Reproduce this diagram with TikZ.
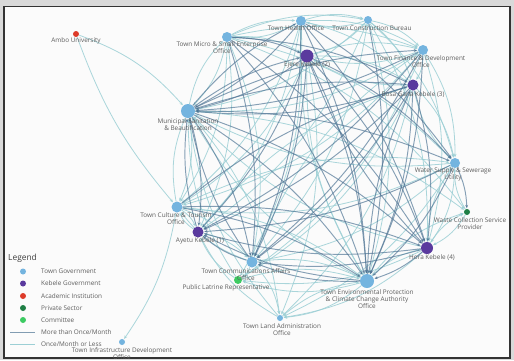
\documentclass[tikz,border=0pt]{standalone}
\usepackage{fontspec}
\setmainfont{Open Sans}
\usetikzlibrary{arrows.meta}
\pgfdeclarelayer{back}
\pgfdeclarelayer{bg}
\pgfsetlayers{back,bg,main}
\definecolor{tgov}{HTML}{74B4DF}
\definecolor{kgov}{HTML}{5A3A9E}
\definecolor{acad}{HTML}{DD3B2A}
\definecolor{priv}{HTML}{1F7F45}
\definecolor{comm}{HTML}{3CCB62}
\definecolor{freqc}{HTML}{4E7494}
\definecolor{rarec}{HTML}{9CCFD5}
\definecolor{labc}{HTML}{5E5E5E}
\tikzset{
  dot/.style={circle,inner sep=0pt,minimum size=#1},
  tg/.style={dot=#1,fill=tgov},
  kg/.style={dot=#1,fill=kgov},
  lab/.style={font=\fontsize{6.4}{7}\selectfont,text=labc,align=center,inner sep=0pt},
  freq/.style={draw=freqc,draw opacity=0.68,line width=0.95pt,-{Stealth[length=3.5pt,width=3pt]},shorten >=0.5pt},
  rare/.style={draw=rarec,draw opacity=0.85,line width=0.8pt,-{Stealth[length=3.5pt,width=3pt]},shorten >=0.5pt},
  legtxt/.style={font=\fontsize{6.4}{7}\selectfont,text=labc,anchor=west,inner sep=0pt},
}
\begin{document}
\begin{tikzpicture}[x=1pt,y=-1pt]
\begin{pgfonlayer}{back}
\fill[black!15] (0,0) rectangle (514,360);
\draw[fill=black!1.5,draw=black!80,line width=1.2pt] (4,6.5) rectangle (510,358);
\end{pgfonlayer}
\useasboundingbox (0,0) rectangle (514,360);
% nodes
\node[dot=6,fill=acad] (au) at (76,34) {};
\node[tg=10] (mse) at (227,37) {};
\node[tg=10] (tho) at (301,21) {};
\node[tg=8] (tcb) at (368,20) {};
\node[kg=13] (ek2) at (307,56) {};
\node[tg=10] (tfd) at (423,50) {};
\node[kg=11] (k3) at (413,85) {};
\node[tg=14] (msb) at (188,111) {};
\node[tg=10] (wss) at (455,163) {};
\node[dot=6,fill=priv] (wcs) at (467,212) {};
\node[kg=12] (hk4) at (427,248) {};
\node[tg=14] (tep) at (367,281) {};
\node[tg=6] (tla) at (280,318) {};
\node[tg=11] (tca) at (252,262) {};
\node[dot=8,fill=comm] (plr) at (238,280) {};
\node[kg=11] (ak1) at (198,232) {};
\node[tg=11] (tct) at (177,207) {};
\node[tg=6] (tid) at (122,342) {};
% labels
\node[lab] (l-au) at (76,41) {Ambo University};
\node[lab] (l-mse) at (222,47.5) {Town Micro \& Small Enterprise\\Office};
\node[lab] (l-tho) at (296,28) {Town Health Office};
\node[lab] (l-tcb) at (372,28) {Town Construction Bureau};
\node[lab] (l-ek2) at (307,65) {Ejere Kebele (2)};
\node[lab] (l-tfd) at (421,62) {Town Finance \& Development\\Office};
\node[lab] (l-k3) at (413,94.5) {Bosa Gana Kebele (3)};
\node[lab] (l-msb) at (188,125) {Municipal Sanitation\\\& Beautification};
\node[lab] (l-wss) at (453,174.5) {Water Supply \& Sewerage\\Utility};
\node[lab] (l-wcs) at (470,223.5) {Waste Collection Service\\Provider};
\node[lab] (l-hk4) at (432,258) {Hora Kebele (4)};
\node[lab] (l-tep) at (367,299) {Town Environmental Protection\\\& Climate Change Authority\\Office};
\node[lab] (l-tla) at (282,330) {Town Land Administration\\Office};
\node[lab] (l-tca) at (246,275) {Town Communications Affairs\\Office};
\node[lab] (l-plr) at (226,288) {Public Latrine Representative};
\node[lab] (l-ak1) at (200,241) {Ayetu Kebele (1)};
\node[lab] (l-tct) at (176,218.5) {Town Culture \& Tourism\\Office};
\node[lab] (l-tid) at (122,353.5) {Town Infrastructure Development\\Office};
% edges
\begin{pgfonlayer}{bg}
\foreach \a/\b in {mse/tho,mse/tcb,mse/ek2,mse/tfd,mse/wss,mse/tca,mse/ak1,mse/tct,mse/msb,
  tho/tcb,tho/tfd,tho/k3,tho/ak1,tho/tct,tcb/ek2,tcb/tfd,tcb/k3,tcb/msb,tcb/wss,tcb/hk4,tcb/tca,
  ek2/tfd,ek2/k3,ek2/tct,tfd/k3,tfd/wss,tfd/hk4,tfd/tct,k3/wss,wss/hk4,wss/tca,wss/tct,
  hk4/wcs,hk4/tla,hk4/plr,tep/tla,tep/plr,tep/wcs,tca/tla,tca/plr,tca/tct,tla/ak1,tla/msb,
  plr/ak1,plr/msb,ak1/tct,tct/msb,tct/wss,tct/tep,msb/wcs,tfd/plr,k3/plr,ek2/tla,tho/plr,
  msb/tla,wss/tla,tcb/tep,k3/tla,tfd/msb,wcs/wss,tho/mse,tcb/tho,tfd/ek2,k3/ek2,wss/k3,
  hk4/wss,tep/hk4,tca/tep,ak1/tca,tct/ak1,msb/tct,msb/mse,tep/msb,hk4/msb,wss/msb,ak1/k3,
  tca/tfd,tep/tho,tep/ek2,plr/tep,tla/tep,wcs/hk4,tct/tca,mse/wcs,tcb/ak1}
  \draw[rare] (\a) to[bend left=16] (\b);
\foreach \a/\b in {msb/tho,msb/ek2,msb/tfd,msb/k3,msb/wss,msb/hk4,msb/tep,msb/tca,msb/ak1,
  mse/tep,mse/hk4,mse/k3,tho/tep,tho/hk4,tho/tca,tho/wss,ek2/tep,ek2/hk4,ek2/tca,ek2/ak1,ek2/wss,
  tfd/tep,tfd/tca,tfd/ak1,k3/tep,k3/tca,k3/ak1,k3/hk4,wss/tep,wss/ak1,wss/wcs,hk4/tep,hk4/tca,
  hk4/ak1,tep/tca,tep/ak1,tca/ak1,tct/hk4,tct/k3,k3/msb,ek2/msb,tho/msb,mse/ek2,tcb/tep,
  tfd/msb,hk4/ek2,tep/k3,ak1/msb,tca/msb,tct/tep,mse/tca}
  \draw[freq] (\a) to[bend left=11] (\b);
\draw[rare] (au) to[bend left=14] (msb);
\draw[rare] (au) to[bend right=10] (tct);
\draw[rare] (tct) to[bend left=12] (tid);
\end{pgfonlayer}
% legend
\node[anchor=west,inner sep=0pt,font=\fontsize{8.4}{9}\selectfont,text=black!75] (leg) at (8,258) {Legend};
\node[dot=6,fill=tgov] (d1) at (23,271.5) {};
\node[dot=6,fill=kgov] (d2) at (23,283.5) {};
\node[dot=6,fill=acad] (d3) at (23,296) {};
\node[dot=6,fill=priv] (d4) at (23,308) {};
\node[dot=6,fill=comm] (d5) at (23,320) {};
\node[legtxt] (t1) at (41,271.5) {Town Government};
\node[legtxt] (t2) at (41,283.5) {Kebele Government};
\node[legtxt] (t3) at (41,296) {Academic Institution};
\node[legtxt] (t4) at (41,308) {Private Sector};
\node[legtxt] (t5) at (41,320) {Committee};
\node[legtxt] (t6) at (41,332) {More than Once/Month};
\node[legtxt] (t7) at (41,344) {Once/Month or Less};
\coordinate (s6) at (10,332); \coordinate (e6) at (35,332);
\coordinate (s7) at (10,344); \coordinate (e7) at (35,344);
\draw[draw=freqc,draw opacity=0.7,line width=0.7pt] (s6) -- (e6);
\draw[draw=rarec,line width=0.7pt] (s7) -- (e7);
\end{tikzpicture}
\end{document}
